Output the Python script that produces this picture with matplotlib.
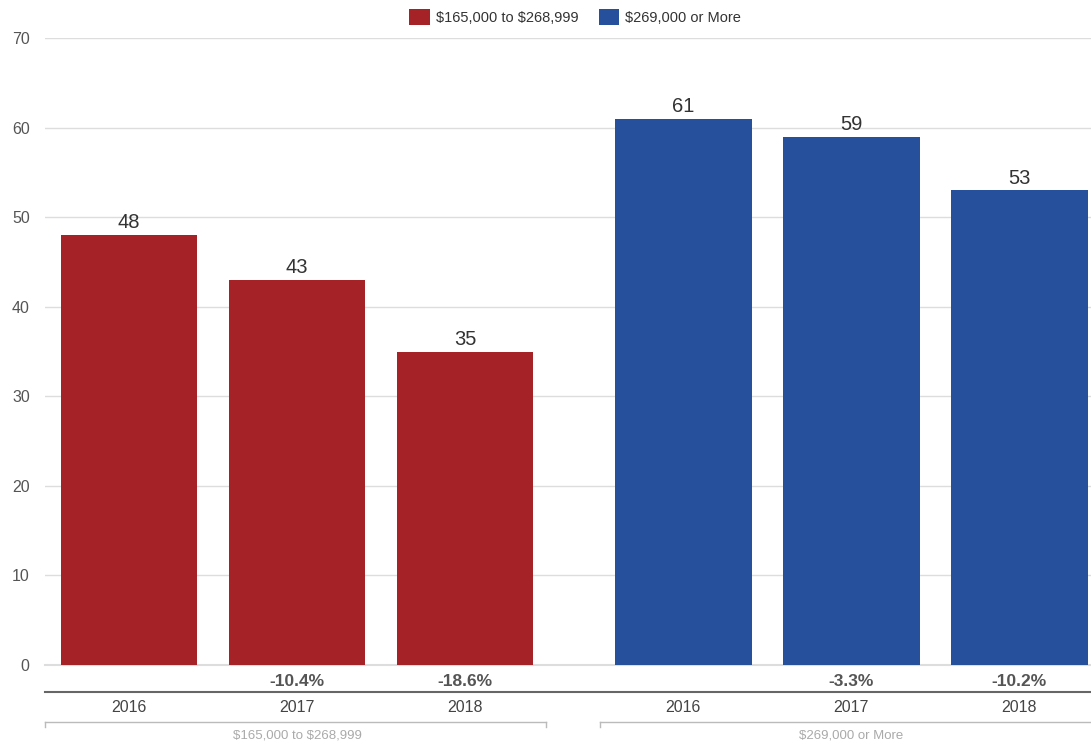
import numpy as np
import matplotlib.pyplot as plt
from matplotlib.transforms import blended_transform_factory
from matplotlib.patches import Patch

plt.rcParams['font.family'] = ['Liberation Sans', 'DejaVu Sans']
plt.rcParams['text.parse_math'] = False

# Data
years = ['2016', '2017', '2018']
groups = ['$165,000 to $268,999', '$269,000 or More']
low_range = [48, 43, 35]
high_range = [61, 59, 53]
low_change = ['', '-10.4%', '-18.6%']
high_change = ['', '-3.3%', '-10.2%']
colors = ['#A52227', '#264F9C']

fig = plt.figure(figsize=(10.91, 7.46), dpi=100)
ax = fig.add_axes([45 / 1091, 1 - 665 / 746, 1 - 45 / 1091, 627 / 746])

x1 = np.arange(3)
x2 = np.arange(3) + 3.3
width = 0.815

ax.bar(x1, low_range, width, color=colors[0], zorder=3)
ax.bar(x2, high_range, width, color=colors[1], zorder=3)

for xs, vals in ((x1, low_range), (x2, high_range)):
    for xv, v in zip(xs, vals):
        ax.text(xv, v + 0.3, str(v), ha='center', va='bottom', fontsize=14.5, color='#333333')

ax.set_xlim(-0.5, 5.726)
ax.set_ylim(0, 70)
ax.set_yticks(range(0, 71, 10))
ax.grid(axis='y', color='#dddddd', linewidth=1, zorder=0)
ax.axhline(0, color='#dddddd', linewidth=1.5, zorder=1, clip_on=False)
ax.tick_params(axis='y', length=0, pad=11, labelsize=11.5, labelcolor='#555555')
ax.tick_params(axis='x', length=0, labelbottom=False)
for s in ax.spines.values():
    s.set_visible(False)

# annotations below the plot area
tr = blended_transform_factory(ax.transData, fig.transFigure)
def fy(py):
    return 1 - py / 746

for xs, chg in ((x1, low_change), (x2, high_change)):
    for xv, c, yr in zip(xs, chg, years):
        ax.text(xv, fy(681), c, transform=tr, ha='center', va='center',
                fontsize=12.5, fontweight='bold', color='#555555', clip_on=False)
        ax.text(xv, fy(708), yr, transform=tr, ha='center', va='center',
                fontsize=11.5, color='#444444', clip_on=False)

fig.add_artist(plt.Line2D([45 / 1091, 1], [fy(692), fy(692)], color='#666666', linewidth=1.5))

# group brackets
for (xa, xb), name, xc in (((45, 546), groups[0], 1.0), ((600, 1091), groups[1], 4.3)):
    fig.add_artist(plt.Line2D([xa / 1091, xb / 1091], [fy(722), fy(722)], color='#bbbbbb', linewidth=1))
    fig.add_artist(plt.Line2D([xa / 1091, xa / 1091], [fy(722), fy(727)], color='#bbbbbb', linewidth=1))
    if xb < 1091:
        fig.add_artist(plt.Line2D([xb / 1091, xb / 1091], [fy(722), fy(727)], color='#bbbbbb', linewidth=1))
    ax.text(xc, fy(736), name, transform=tr, ha='center', va='center',
            fontsize=9.5, color='#aaaaaa', clip_on=False)

handles = [Patch(facecolor=colors[0], edgecolor='none'), Patch(facecolor=colors[1], edgecolor='none')]
fig.legend(handles, groups, loc='center', bbox_to_anchor=(575 / 1091, fy(17)), ncol=2,
           frameon=False, fontsize=10.5, handlelength=1.4, handleheight=1.3,
           handletextpad=0.4, columnspacing=1.4, labelcolor='#333333')

fig.savefig('out.png', dpi=100)
